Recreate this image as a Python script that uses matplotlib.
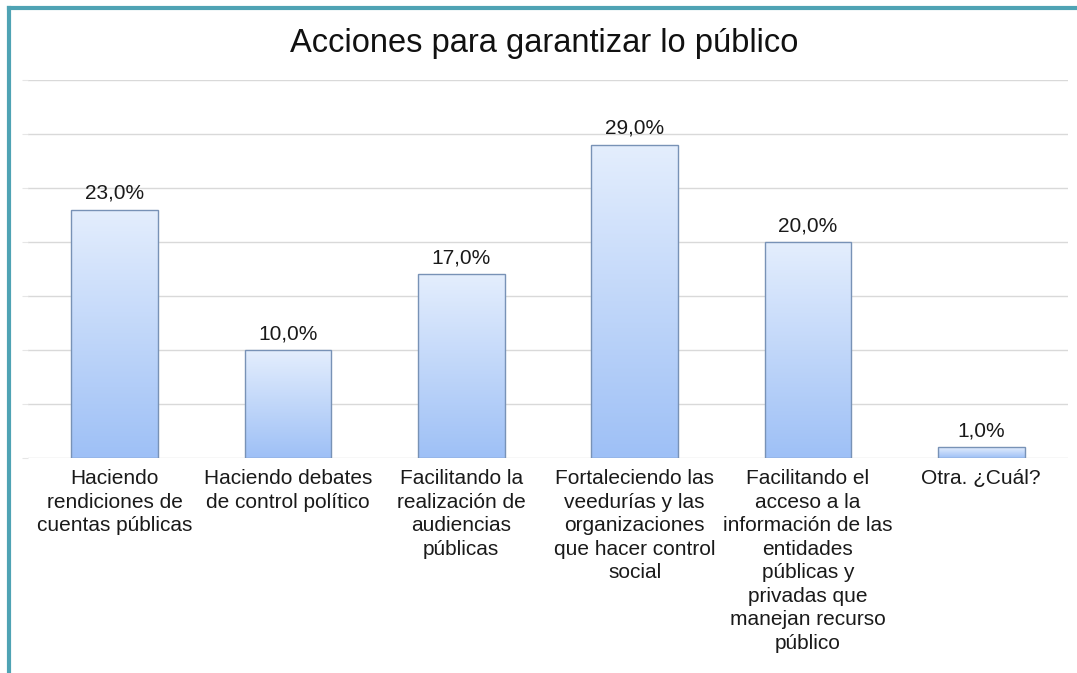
import matplotlib
matplotlib.use("Agg")
import matplotlib.pyplot as plt
import numpy as np
from matplotlib.lines import Line2D

# data
categories = [
    "Haciendo\nrendiciones de\ncuentas públicas",
    "Haciendo debates\nde control político",
    "Facilitando la\nrealización de\naudiencias\npúblicas",
    "Fortaleciendo las\nveedurías y las\norganizaciones\nque hacer control\nsocial",
    "Facilitando el\nacceso a la\ninformación de las\nentidades\npúblicas y\nprivadas que\nmanejan recurso\npúblico",
    "Otra. ¿Cuál?",
]
values = [23.0, 10.0, 17.0, 29.0, 20.0, 1.0]
value_labels = ["23,0%", "10,0%", "17,0%", "29,0%", "20,0%", "1,0%"]

plt.rcParams['font.family'] = ['Liberation Sans', 'DejaVu Sans']

fig = plt.figure(figsize=(10.77, 6.73), dpi=100)
ax = fig.add_axes([0.026, 0.3195, 0.9655, 0.5615])

x = np.arange(len(values))
bars = ax.bar(x, values, width=0.5, color='none', edgecolor='#7892b6', lw=1, zorder=3)

# vertical gradient inside each bar (light at top, stronger blue at bottom)
grad = np.linspace(0, 1, 256).reshape(-1, 1)
cmap = matplotlib.colors.LinearSegmentedColormap.from_list('bar', ['#e4eefd', '#9ec0f6'])
for b in bars:
    x0, w, h = b.get_x(), b.get_width(), b.get_height()
    im = ax.imshow(grad, cmap=cmap, aspect='auto', extent=[x0, x0 + w, 0, h],
                   origin='upper', zorder=2)
    im.set_clip_path(b)

for xi, v, lab in zip(x, values, value_labels):
    ax.annotate(lab, xy=(xi, v), xytext=(0, 5), textcoords='offset points',
                ha='center', va='bottom', fontsize=15, color='#1a1a1a')

ax.set_xlim(-0.5, len(values) - 0.5)
ax.set_ylim(0, 35)
ax.set_yticks(np.arange(0, 36, 5))
ax.yaxis.grid(True, color='#d9d9d9', lw=1, zorder=0)
ax.tick_params(axis='y', length=4, color='#e6e6e6', labelleft=False)
ax.set_xticks(x)
ax.set_xticklabels(categories, fontsize=15, color='#1a1a1a', linespacing=1.3, va='top')
ax.tick_params(axis='x', length=0, pad=8)
for s in ax.spines.values():
    s.set_visible(False)

fig.text(0.505, 0.935, "Acciones para garantizar lo público", ha='center', va='center',
         fontsize=23.5, color='#111111')

# teal frame (top and left edges)
fig.add_artist(Line2D([8.5 / 1077, 1.0], [1 - 8 / 673, 1 - 8 / 673], color='#4fa3b4', lw=3,
                      transform=fig.transFigure))
fig.add_artist(Line2D([8.5 / 1077, 8.5 / 1077], [0, 1 - 8 / 673], color='#4fa3b4', lw=3,
                      transform=fig.transFigure))

fig.savefig("out.png", dpi=100)
